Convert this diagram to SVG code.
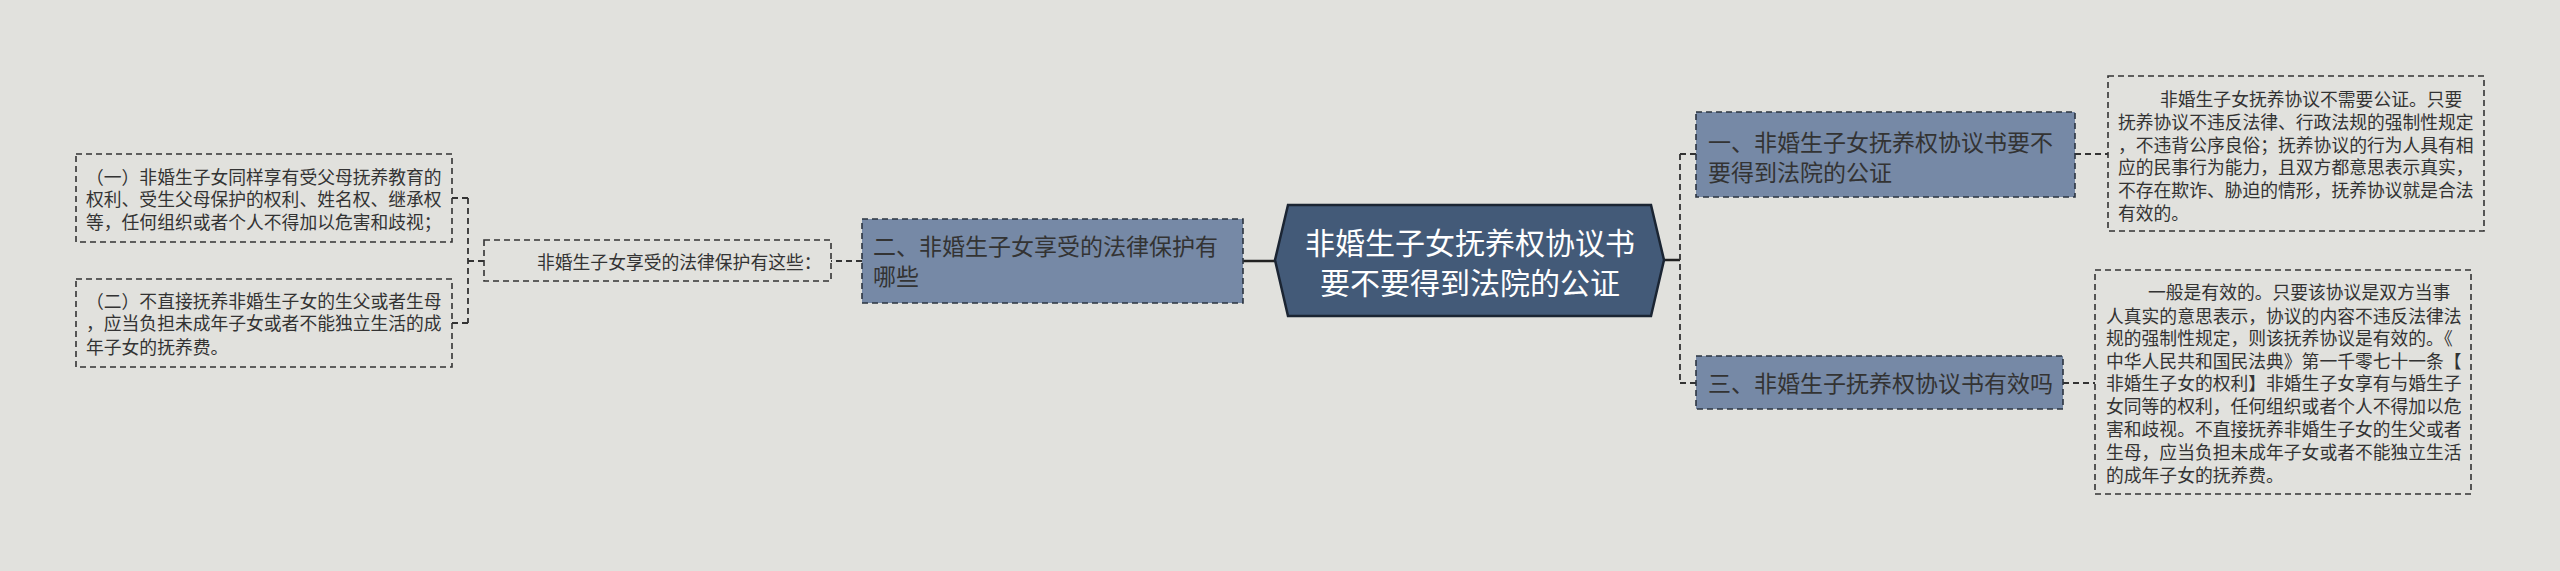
<svg xmlns="http://www.w3.org/2000/svg" width="2560" height="571" viewBox="0 0 2560 571">
<style>
text{font-family:"Noto Sans CJK SC","Noto Sans",sans-serif;}
.bg{fill:#e1e1dd;}
.sub{fill:#7689a6;stroke:#2b3440;stroke-width:1.6;stroke-dasharray:6 4;}
.leaf{fill:none;stroke:#333;stroke-width:1.6;stroke-dasharray:6 4;}
.root{fill:#435a78;stroke:#1b2533;stroke-width:2.5;}
.t-root{fill:#ffffff;font-size:30px;text-anchor:middle;}
.t-sub{fill:#333;font-size:23px;}
.t-leaf{fill:#333;font-size:17.8px;}
.solid{fill:none;stroke:#222;stroke-width:2.5;}
.dash{fill:none;stroke:#333;stroke-width:1.8;stroke-dasharray:6 4;}
</style>
<rect class="bg" x="0" y="0" width="2560" height="571"/>
<g id="connectors">
<path class="solid" d="M1243,261 H1275"/>
<path class="solid" d="M1664,260 H1680"/>
<path class="dash" d="M1680,154 V383"/>
<path class="dash" d="M1680,154 H1696"/>
<path class="dash" d="M1680,383 H1696"/>
<path class="dash" d="M2075,154 H2108"/>
<path class="dash" d="M2063,383 H2095"/>
<path class="dash" d="M862,261 H831"/>
<path class="dash" d="M484,261 H468"/>
<path class="dash" d="M468,198 V323"/>
<path class="dash" d="M468,198 H452"/>
<path class="dash" d="M468,323 H452"/>
</g>
<g id="root">
<polygon class="root" points="1275,260 1288,205 1651,205 1664,260 1651,316 1288,316"/>
<text class="t-root" x="1470" y="254">非婚生子女抚养权协议书</text>
<text class="t-root" x="1470" y="294">要不要得到法院的公证</text>
</g>
<g id="node1">
<rect class="sub" x="1696" y="112" width="379" height="85"/>
<text class="t-sub" x="1708" y="151">一、非婚生子女抚养权协议书要不</text>
<text class="t-sub" x="1708" y="181">要得到法院的公证</text>
</g>
<g id="node1-leaf">
<rect class="leaf" x="2108" y="76" width="376" height="155"/>
<text class="t-leaf" x="2160" y="106">非婚生子女抚养协议不需要公证。只要</text>
<text class="t-leaf" x="2118" y="129">抚养协议不违反法律、行政法规的强制性规定</text>
<text class="t-leaf" x="2118" y="152">，不违背公序良俗；抚养协议的行为人具有相</text>
<text class="t-leaf" x="2118" y="174">应的民事行为能力，且双方都意思表示真实，</text>
<text class="t-leaf" x="2118" y="197">不存在欺诈、胁迫的情形，抚养协议就是合法</text>
<text class="t-leaf" x="2118" y="220">有效的。</text>
</g>
<g id="node3">
<rect class="sub" x="1696" y="356" width="367" height="53"/>
<text class="t-sub" x="1708" y="392">三、非婚生子抚养权协议书有效吗</text>
</g>
<g id="node3-leaf">
<rect class="leaf" x="2095" y="270" width="376" height="224"/>
<text class="t-leaf" x="2148" y="299">一般是有效的。只要该协议是双方当事</text>
<text class="t-leaf" x="2106" y="323">人真实的意思表示，协议的内容不违反法律法</text>
<text class="t-leaf" x="2106" y="345">规的强制性规定，则该抚养协议是有效的。《</text>
<text class="t-leaf" x="2106" y="368">中华人民共和国民法典》第一千零七十一条【</text>
<text class="t-leaf" x="2106" y="390">非婚生子女的权利】非婚生子女享有与婚生子</text>
<text class="t-leaf" x="2106" y="413">女同等的权利，任何组织或者个人不得加以危</text>
<text class="t-leaf" x="2106" y="436">害和歧视。不直接抚养非婚生子女的生父或者</text>
<text class="t-leaf" x="2106" y="459">生母，应当负担未成年子女或者不能独立生活</text>
<text class="t-leaf" x="2106" y="482">的成年子女的抚养费。</text>
</g>
<g id="node2">
<rect class="sub" x="862" y="219" width="381" height="84"/>
<text class="t-sub" x="873" y="255">二、非婚生子女享受的法律保护有</text>
<text class="t-sub" x="873" y="285">哪些</text>
</g>
<g id="node2-mid">
<rect class="leaf" x="484" y="240" width="347" height="41"/>
<text class="t-leaf" x="537" y="269">非婚生子女享受的法律保护有这些：</text>
</g>
<g id="node2-leaf1">
<rect class="leaf" x="76" y="154" width="376" height="88"/>
<text class="t-leaf" x="86" y="184">（一）非婚生子女同样享有受父母抚养教育的</text>
<text class="t-leaf" x="86" y="206">权利、受生父母保护的权利、姓名权、继承权</text>
<text class="t-leaf" x="86" y="229">等，任何组织或者个人不得加以危害和歧视；</text>
</g>
<g id="node2-leaf2">
<rect class="leaf" x="76" y="279" width="376" height="88"/>
<text class="t-leaf" x="86" y="308">（二）不直接抚养非婚生子女的生父或者生母</text>
<text class="t-leaf" x="86" y="330">，应当负担未成年子女或者不能独立生活的成</text>
<text class="t-leaf" x="86" y="354">年子女的抚养费。</text>
</g>
</svg>
